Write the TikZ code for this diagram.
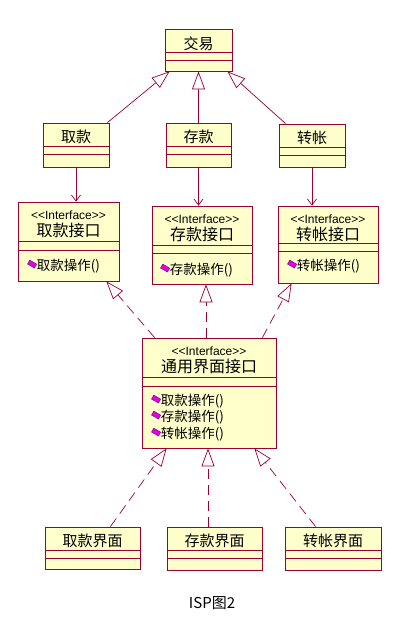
\documentclass[tikz,border=0pt]{standalone}
\usepackage{fontspec}
\newfontfamily\cjk{Noto Sans CJK SC}
\newfontfamily\latin{Liberation Sans}
\usetikzlibrary{arrows.meta, positioning}

\definecolor{umlline}{RGB}{153,0,51}
\definecolor{umlfill}{RGB}{255,255,204}
\definecolor{opfill}{RGB}{230,0,230}
\definecolor{opline}{RGB}{110,0,110}

\tikzset{
  klass/.style={draw=umlline, fill=umlfill, line width=0.8pt, inner sep=0pt},
  ktitle/.style={font=\cjk\fontsize{15}{15}\selectfont, inner sep=0pt},
  kname/.style={font=\cjk\fontsize{16}{16}\selectfont, inner sep=0pt},
  stereo/.style={font=\latin\fontsize{12}{12}\selectfont, inner sep=0pt},
  oper/.style={font=\cjk\fontsize{13.5}{13.5}\selectfont, anchor=west, inner sep=0pt},
  opicon/.style={draw=opline, fill=opfill, rotate=-30, minimum width=8pt,
    minimum height=4.5pt, inner sep=0pt, line width=0.4pt},
  gen/.style={draw=umlline, line width=0.7pt,
    -{Triangle[open, length=18pt, width=13pt, fill=white]}},
  real/.style={gen, dash pattern=on 10pt off 6pt},
  assoc/.style={draw=umlline, line width=0.7pt, -{Straight Barb[length=6pt, width=9pt]}},
}

% box with two empty compartments: name, centre, width, height, dividers from top
\newcommand{\klassbox}[6]{%
  \node[klass, minimum width=#3, minimum height=#4] (#1) at (#2) {};
  \draw[umlline, line width=0.8pt]
    ([yshift=-#5]#1.north west) -- ([yshift=-#5]#1.north east)
    ([yshift=-#6]#1.north west) -- ([yshift=-#6]#1.north east);
}

\begin{document}
\begin{tikzpicture}[x=1pt, y=-1pt]
\useasboundingbox (0,0) rectangle (404,644);

% 顶层
\klassbox{jy}{198.5,50}{67}{42}{24}{32}
\node[ktitle] (jy-t) at ([yshift=-15pt]jy.north) {交易};

% 三种业务
\klassbox{qk}{76,145}{66}{44}{24}{32}
\klassbox{ck}{198.5,145}{65}{44}{24}{32}
\klassbox{zz}{312,145.5}{66}{43}{24}{32}
\node[ktitle] (qk-t) at ([yshift=-14pt]qk.north) {取款};
\node[ktitle] (ck-t) at ([yshift=-14pt]ck.north) {存款};
\node[ktitle] (zz-t) at ([yshift=-14pt]zz.north) {转帐};

% 接口
\klassbox{qki}{68.5,241.5}{101}{79}{40}{49}
\klassbox{cki}{202,245}{100}{78}{40}{48}
\klassbox{zzi}{328,244.5}{100}{77}{38}{46}
\foreach \n/\t in {qki/取款, cki/存款, zzi/转帐} {
  \node[stereo] (\n-s) at ([yshift=-14pt]\n.north) {<\kern0pt<Interface>\kern0pt>};
  \node[kname] (\n-t) at ([yshift=-29pt]\n.north) {\t 接口};
}
\node[oper] (qki-m) at ([xshift=19pt, yshift=-65pt]qki.north west) {取款操作()};
\node[oper] (cki-m) at ([xshift=18pt, yshift=-65pt]cki.north west) {存款操作()};
\node[oper] (zzi-m) at ([xshift=19pt, yshift=-61pt]zzi.north west) {转帐操作()};
\foreach \n in {qki, cki, zzi}
  \node[opicon] (\n-i) at ([xshift=-4.5pt, yshift=2.5pt]\n-m.west) {};

% 通用界面接口
\klassbox{ty}{209,393}{134}{110}{40}{49}
\node[stereo] (ty-s) at ([yshift=-14pt]ty.north) {<\kern0pt<Interface>\kern0pt>};
\node[kname] (ty-t) at ([yshift=-29pt]ty.north) {通用界面接口};
\node[oper] (ty-m1) at ([xshift=19pt, yshift=-64pt]ty.north west) {取款操作()};
\node[oper] (ty-m2) at ([xshift=19pt, yshift=-80pt]ty.north west) {存款操作()};
\node[oper] (ty-m3) at ([xshift=19pt, yshift=-97pt]ty.north west) {转帐操作()};
\foreach \m in {ty-m1, ty-m2, ty-m3}
  \node[opicon] (\m-i) at ([xshift=-4.5pt, yshift=2.5pt]\m.west) {};

% 界面
\klassbox{qkj}{92.5,548}{95}{42}{24}{32}
\klassbox{ckj}{214.5,548.5}{95}{43}{24}{32}
\klassbox{zzj}{333,548.5}{96}{43}{24}{32}
\node[ktitle] (qkj-t) at ([yshift=-14pt]qkj.north) {取款界面};
\node[ktitle] (ckj-t) at ([yshift=-14pt]ckj.north) {存款界面};
\node[ktitle] (zzj-t) at ([yshift=-14pt]zzj.north) {转帐界面};

% 泛化
\draw[gen] ([xshift=-2pt]qk.north east) -- ([xshift=5pt]jy.south west);
\draw[gen] (ck.north) -- (jy.south);
\draw[gen] ([xshift=7pt]zz.north west) -- ([xshift=-5pt]jy.south east);

% 关联
\draw[assoc] (qk.south) -- (qk.south |- qki.north);
\draw[assoc] (ck.south) -- (ck.south |- cki.north);
\draw[assoc] (zz.south) -- (zz.south |- zzi.north);

% 实现
\draw[real] ([xshift=13pt]ty.north west) -- ([xshift=-13pt]qki.south east);
\draw[real] ([xshift=-3pt]ty.north) -- ([xshift=-3pt]ty.north |- cki.south);
\draw[real] ([xshift=-14pt]ty.north east) -- ([xshift=14pt]zzi.south west);
\draw[real] ([xshift=-30pt]qkj.north east) -- ([xshift=25pt]ty.south west);
\draw[real] ([xshift=-1pt]ty.south |- ckj.north) -- ([xshift=-1pt]ty.south);
\draw[real] ([xshift=31pt]zzj.north west) -- ([xshift=-22pt]ty.south east);

% 图名
\node[font=\cjk\fontsize{15}{15}\selectfont] (cap) at (212,603) {ISP图2};
\end{tikzpicture}
\end{document}
